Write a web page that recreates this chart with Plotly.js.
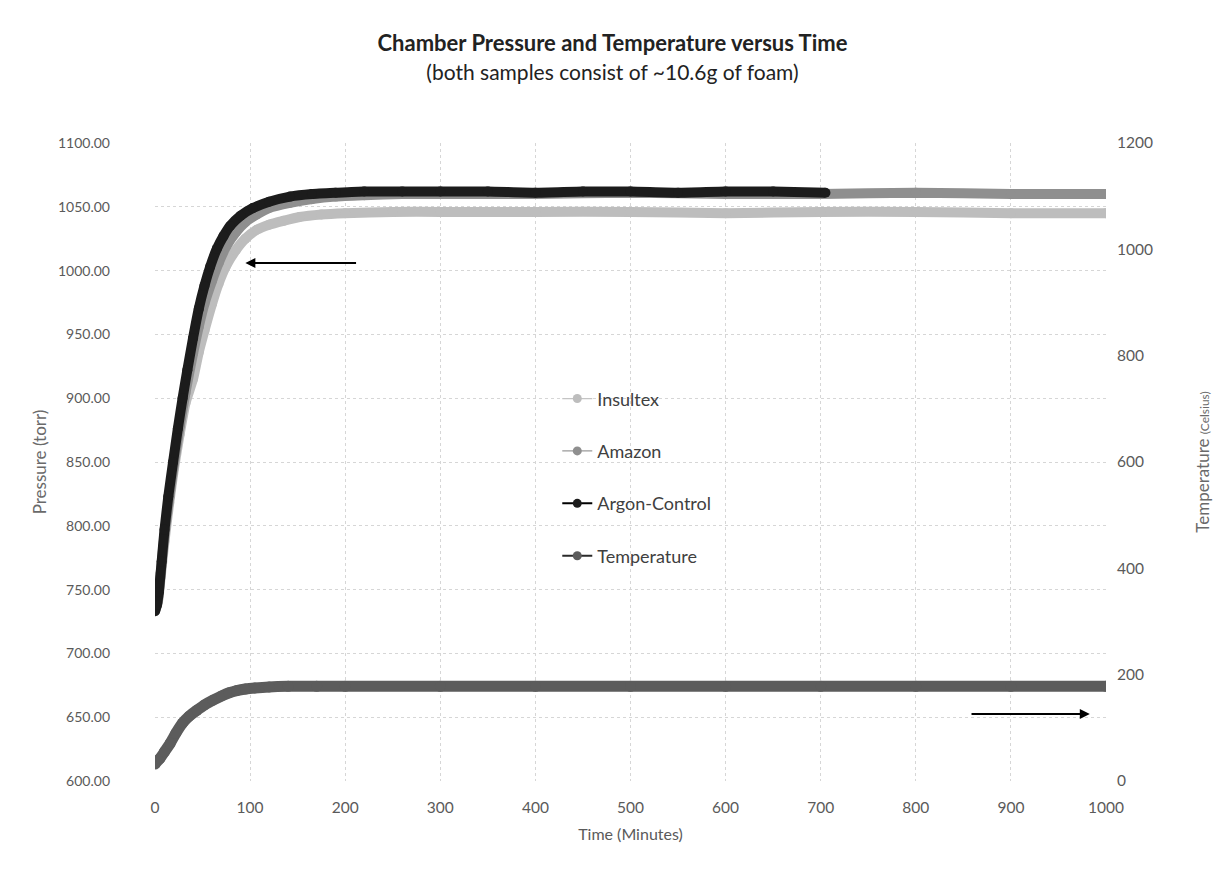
<!DOCTYPE html>
<html>
<head>
<meta charset="utf-8">
<script src="https://cdn.plot.ly/plotly-3.0.1.min.js"></script>
<style>html,body{margin:0;padding:0;background:#fff;}#chart{width:1225px;height:895px;}</style>
</head>
<body>
<div id="chart"></div>
<script>
// ---- data ----
var argonTime     = [0, 2, 4, 7, 10, 14, 19, 24, 29, 34, 40, 46, 52, 58, 65, 72, 79, 90, 103, 120, 142, 165, 190, 220, 260, 300, 350, 400, 450, 500, 550, 600, 650, 705];
var argonPressure = [733, 738, 748, 772, 797, 823, 850, 876, 900, 922, 947, 970, 988, 1003, 1017, 1027, 1035, 1043, 1049, 1054, 1058, 1060, 1061, 1062, 1062, 1062, 1062, 1061, 1062, 1062, 1061, 1062, 1062, 1061];

var amazonTime     = [0, 3, 6, 10, 15, 20, 26, 32, 40, 46, 52, 60, 67, 75, 85, 95, 107, 120, 142, 165, 190, 220, 260, 300, 400, 500, 600, 700, 800, 900, 1000];
var amazonPressure = [733, 741, 763, 793, 822, 849, 878, 904, 935, 956, 974, 992, 1006, 1019, 1030, 1038, 1044, 1049, 1053, 1056, 1058, 1059, 1060, 1060, 1060, 1061, 1060, 1060, 1061, 1060, 1060];

var insultexTime     = [0, 3, 6, 10, 15, 20, 26, 32, 40, 46, 52, 60, 67, 75, 85, 95, 107, 120, 135, 152, 175, 200, 250, 300, 400, 500, 600, 700, 800, 900, 1000];
var insultexPressure = [733, 740, 760, 788, 818, 845, 872, 896, 915, 936, 953, 974, 990, 1004, 1016, 1025, 1032, 1036, 1039, 1042, 1044, 1045, 1046, 1046, 1046, 1046, 1045, 1046, 1046, 1045, 1045];

var tempTime    = [0, 5, 10, 16, 22, 29, 36, 44, 52, 61, 70, 78, 86, 95, 105, 120, 140, 170, 200, 300, 400, 500, 600, 700, 800, 900, 1000];
var tempCelsius = [32, 42, 55, 71, 90, 109, 122, 133, 143, 152, 160, 166, 170, 173, 175, 177, 178, 178, 178, 178, 178, 178, 178, 178, 178, 178, 178];

var seriesNames = ["Insultex", "Amazon", "Argon-Control", "Temperature"];
var pressureTicks = [600, 650, 700, 750, 800, 850, 900, 950, 1000, 1050, 1100];
var tempTicks = [0, 200, 400, 600, 800, 1000, 1200];
var timeTicks = [0, 100, 200, 300, 400, 500, 600, 700, 800, 900, 1000];

// ---- styles ----
var FONT = "Lato, 'Open Sans', 'DejaVu Sans', sans-serif";
var colors = {
  "Insultex": "#bdbdbd",
  "Amazon": "#8f8f8f",
  "Argon-Control": "#1c1c1c",
  "Temperature": "#5c5c5c"
};
var legendLine = {
  "Insultex": "#c4c4c4",
  "Amazon": "#9a9a9a",
  "Argon-Control": "#000000",
  "Temperature": "#2a2a2a"
};
var widths = {"Insultex": 10, "Amazon": 10, "Argon-Control": 10, "Temperature": 11};

function mainTrace(name, x, y, axis) {
  return {
    type: "scatter", mode: "lines+markers", name: name, x: x, y: y, yaxis: axis,
    line: {color: colors[name], width: widths[name], shape: "spline", smoothing: 0.5},
    marker: {color: colors[name], size: widths[name], line: {width: 0}},
    showlegend: false, hoverinfo: "skip"
  };
}
function legendTrace(name, i) {
  return {
    type: "scatter", mode: "lines+markers", name: name, x: [null], y: [null],
    legendgroup: "g" + i,
    line: {color: legendLine[name], width: name === "Insultex" || name === "Amazon" ? 1.2 : 2},
    marker: {color: colors[name], size: 9, symbol: "circle"},
    hoverinfo: "skip"
  };
}

var data = [
  mainTrace("Insultex", insultexTime, insultexPressure, "y"),
  mainTrace("Amazon", amazonTime, amazonPressure, "y"),
  mainTrace("Argon-Control", argonTime, argonPressure, "y"),
  mainTrace("Temperature", tempTime, tempCelsius, "y2")
];
seriesNames.forEach(function (n, i) { data.push(legendTrace(n, i)); });

var tickFont = {family: FONT, size: 14, color: "#5a5a5a"};
var tickFontBig = {family: FONT, size: 15.5, color: "#5a5a5a"};
var gridCol = "#d6d6d6";

var layout = {
  width: 1225, height: 895,
  paper_bgcolor: "#ffffff", plot_bgcolor: "#ffffff",
  margin: {l: 155, r: 119, t: 143, b: 114},
  font: {family: FONT, color: "#404040"},
  title: {
    text: "<b>Chamber Pressure and Temperature versus Time</b><br><span style='font-size:21px;font-weight:normal'>(both samples consist of ~10.6g of foam)</span>",
    font: {family: FONT, size: 22, color: "#222222"},
    x: 0.5, xanchor: "center", y: 0.943, yanchor: "top"
  },
  xaxis: {
    range: [0, 1000], tickvals: timeTicks, ticktext: timeTicks.map(String),
    showgrid: true, gridcolor: gridCol, griddash: "dot", gridwidth: 1,
    zeroline: false, showline: false, ticks: "",
    tickfont: tickFontBig, ticklabelstandoff: 15,
    title: {text: "Time (Minutes)", font: {family: FONT, size: 16, color: "#5a5a5a"}, standoff: 14}
  },
  yaxis: {
    range: [600, 1100], tickvals: pressureTicks,
    ticktext: pressureTicks.map(function (v) { return v.toFixed(2); }),
    showgrid: true, gridcolor: gridCol, griddash: "dot", gridwidth: 1,
    zeroline: false, showline: false, ticks: "",
    tickfont: tickFont, ticklabelstandoff: 44,
    title: {text: "Pressure (torr)", font: {family: FONT, size: 17, color: "#6a6a6a"}, standoff: 7}
  },
  yaxis2: {
    overlaying: "y", side: "right", range: [0, 1200], tickvals: tempTicks,
    ticktext: tempTicks.map(String),
    showgrid: false, zeroline: false, showline: false, ticks: "",
    tickfont: tickFontBig, ticklabelstandoff: 10,
    title: {text: "Temperature <span style='font-size:12px'>(Celsius)</span>", font: {family: FONT, size: 17, color: "#6a6a6a"}, standoff: 45}
  },
  legend: {
    x: 0.423, y: 0.628, xanchor: "left", yanchor: "top",
    bgcolor: "rgba(0,0,0,0)", borderwidth: 0,
    font: {family: FONT, size: 18, color: "#404040"},
    traceorder: "grouped", tracegroupgap: 26, itemwidth: 30
  },
  annotations: [
    {xref: "x", yref: "y", axref: "x", ayref: "y", x: 95, y: 1006, ax: 213, ay: 1006,
     showarrow: true, arrowhead: 2, arrowsize: 1, arrowwidth: 2, arrowcolor: "#000", text: ""},
    {xref: "x", yref: "y2", axref: "x", ayref: "y2", x: 983, y: 126, ax: 857, ay: 126,
     showarrow: true, arrowhead: 2, arrowsize: 1, arrowwidth: 2, arrowcolor: "#000", text: ""}
  ],
  showlegend: true
};

Plotly.newPlot("chart", data, layout, {displayModeBar: false, staticPlot: true});
</script>
</body>
</html>
